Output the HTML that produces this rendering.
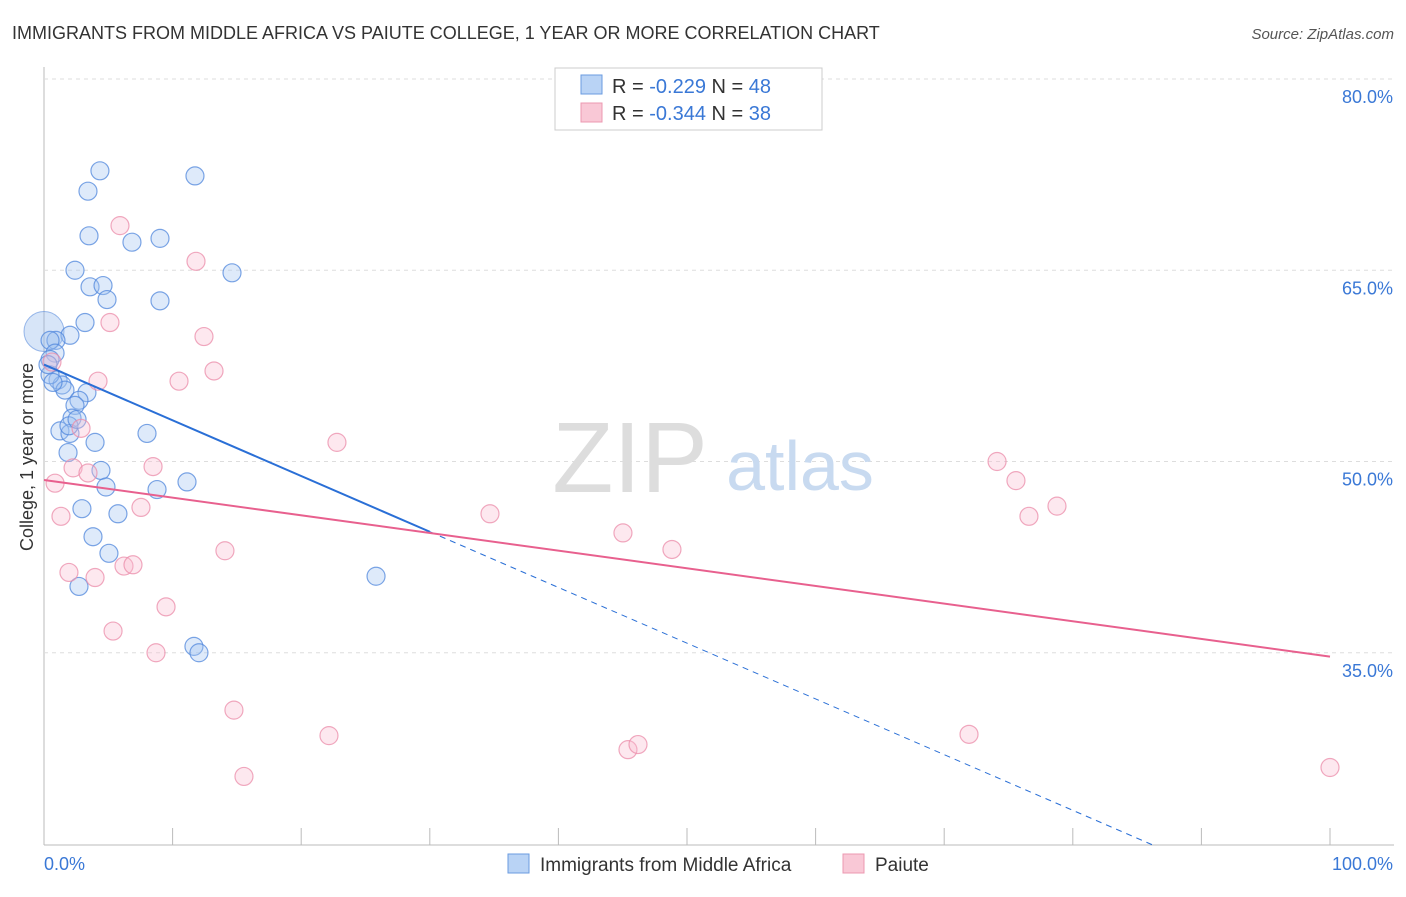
<!DOCTYPE html>
<html><head><meta charset="utf-8"><style>
body{margin:0;background:#fff;font-family:"Liberation Sans",sans-serif}
svg text{font-family:"Liberation Sans",sans-serif}
</style></head><body>
<svg id="chart" width="1406" height="892" xmlns="http://www.w3.org/2000/svg">
<text x="12" y="39" font-size="18" fill="#333">IMMIGRANTS FROM MIDDLE AFRICA VS PAIUTE COLLEGE, 1 YEAR OR MORE CORRELATION CHART</text>
<text x="1394" y="39" font-size="15" fill="#555" font-style="italic" text-anchor="end">Source: ZipAtlas.com</text>
<text x="0" y="0" font-size="18" fill="#333" text-anchor="middle" transform="translate(33,457) rotate(-90)">College, 1 year or more</text>
<g id="grid"></g>
<text x="630" y="492" font-size="100" fill="#ddd" font-family="Liberation Serif" text-anchor="middle">ZIP</text>
<text x="800" y="490" font-size="70" fill="#c8daf0" text-anchor="middle">atlas</text>
<g id="marks"></g>
<g>
<rect x="555" y="68" width="267" height="62" fill="#fff" stroke="#ccc"/>
<rect x="581" y="75" width="21" height="19" fill="#b9d3f5" stroke="#6a9be0"/>
<rect x="581" y="103" width="21" height="19" fill="#f9c8d6" stroke="#ec98b0"/>
<text x="612" y="93" font-size="20" fill="#333">R = <tspan fill="#3a78d6">-0.229</tspan>   N = <tspan fill="#3a78d6">48</tspan></text>
<text x="612" y="120" font-size="20" fill="#333">R = <tspan fill="#3a78d6">-0.344</tspan>   N = <tspan fill="#3a78d6">38</tspan></text>
</g>
<g>
<rect x="508" y="854" width="21" height="19" fill="#b9d3f5" stroke="#6a9be0"/>
<text x="540" y="871" font-size="19" fill="#333">Immigrants from Middle Africa</text>
<rect x="843" y="854" width="21" height="19" fill="#f9c8d6" stroke="#ec98b0"/>
<text x="875" y="871" font-size="19" fill="#333">Paiute</text>
</g>
</svg>
<script>
const yTicks=[80,65,50,35];
const xTickLabels=["0.0%","100.0%"];
const blueX=[4.35,3.42,11.74,3.5,6.84,9.02,2.41,14.62,3.58,4.59,4.9,9.02,3.19,2.02,0.93,0.47,0.86,0.47,1.09,1.4,1.63,3.34,2.72,2.41,2.18,1.24,2.02,1.94,3.97,8.01,1.87,4.43,4.82,8.79,11.12,2.95,5.75,3.81,5.05,2.72,11.66,12.05,25.82,0.47,0.31,0.7,2.57];
const blueY=[72.8,71.2,72.4,67.7,67.2,67.5,65.0,64.8,63.7,63.8,62.7,62.6,60.9,59.9,59.5,59.5,58.5,58.0,56.4,56.0,55.6,55.4,54.8,54.4,53.4,52.4,52.2,52.8,51.5,52.2,50.7,49.3,48.0,47.8,48.4,46.3,45.9,44.1,42.8,40.2,35.5,35.0,41.0,56.8,57.6,56.2,53.3];
const pinkX=[5.91,11.82,5.13,12.44,13.22,10.5,4.2,0.62,2.88,22.78,2.26,3.42,8.48,0.86,1.32,7.54,34.68,45.02,48.83,14.07,6.22,6.92,1.94,3.97,9.49,5.37,8.71,14.77,22.16,15.55,45.41,46.19,71.93,74.11,75.58,76.59,78.77,100];
const pinkY=[68.5,65.7,60.9,59.8,57.1,56.3,56.3,57.8,52.6,51.5,49.5,49.1,49.6,48.3,45.7,46.4,45.9,44.4,43.1,43.0,41.8,41.9,41.3,40.9,38.6,36.7,35.0,30.5,28.5,25.3,27.4,27.8,28.6,50.0,48.5,45.7,46.5,26.0];
const blueTrend=[57.6,-0.437];
const pinkTrend=[48.55,-0.1385];
const NS="http://www.w3.org/2000/svg";
const X=v=>44+v*12.86, Y=v=>79+(80-v)*12.75;
const grid=document.getElementById('grid'), marks=document.getElementById('marks');
function mk(tag,attrs,parent){const e=document.createElementNS(NS,tag);for(const k in attrs)e.setAttribute(k,attrs[k]);parent.appendChild(e);return e;}
let ax=mk('line',{x1:44,y1:67,x2:44,y2:845,stroke:'#bbb'},grid);


let bx=mk('line',{x1:44,y1:845,x2:1394,y2:845,stroke:'#bbb'},grid);


for(let i=1;i<=10;i++){let t=mk('line',{x1:X(i*10),y1:828,x2:X(i*10),y2:845,stroke:'#bbb'},grid);

}
yTicks.forEach(v=>{let g=mk('line',{x1:44,y1:Y(v),x2:1394,y2:Y(v),stroke:'#ddd','stroke-dasharray':'4,4'},grid);


let t=mk('text',{x:1393,y:Y(v)+24,'font-size':18,fill:'#3a78d6','text-anchor':'end'},grid);t.textContent=v.toFixed(1)+'%';

});
let l0=mk('text',{x:44,y:870,'font-size':18,fill:'#3a78d6'},grid);l0.textContent=xTickLabels[0];


let l1=mk('text',{x:1393,y:870,'font-size':18,fill:'#3a78d6','text-anchor':'end'},grid);l1.textContent=xTickLabels[1];


let big=mk('circle',{cx:X(0),cy:Y(60.2),r:20,fill:'rgba(140,180,235,0.35)',stroke:'rgba(90,140,220,0.6)'},marks);


blueX.forEach((x,i)=>{let c=mk('circle',{cx:X(x),cy:Y(blueY[i]),r:9,fill:'rgba(160,195,240,0.35)',stroke:'rgba(80,135,220,0.75)','stroke-width':1.2},marks);

});
pinkX.forEach((x,i)=>{let c=mk('circle',{cx:X(x),cy:Y(pinkY[i]),r:9,fill:'rgba(248,190,210,0.35)',stroke:'rgba(235,140,170,0.75)','stroke-width':1.2},marks);

});
const bf=x=>blueTrend[0]+blueTrend[1]*x, pf=x=>pinkTrend[0]+pinkTrend[1]*x;
let bs=mk('line',{x1:X(0),y1:Y(bf(0)),x2:X(30),y2:Y(bf(30)),stroke:'#2a6fd6','stroke-width':2},marks);


const xEnd=(19.9-blueTrend[0])/blueTrend[1];
let bd=mk('line',{x1:X(30),y1:Y(bf(30)),x2:X(xEnd),y2:Y(bf(xEnd)),stroke:'#2a6fd6','stroke-width':1,'stroke-dasharray':'6,5'},marks);


let pl=mk('line',{x1:X(0),y1:Y(pf(0)),x2:X(100),y2:Y(pf(100)),stroke:'#e8608e','stroke-width':2},marks);


</script>
</body></html>
